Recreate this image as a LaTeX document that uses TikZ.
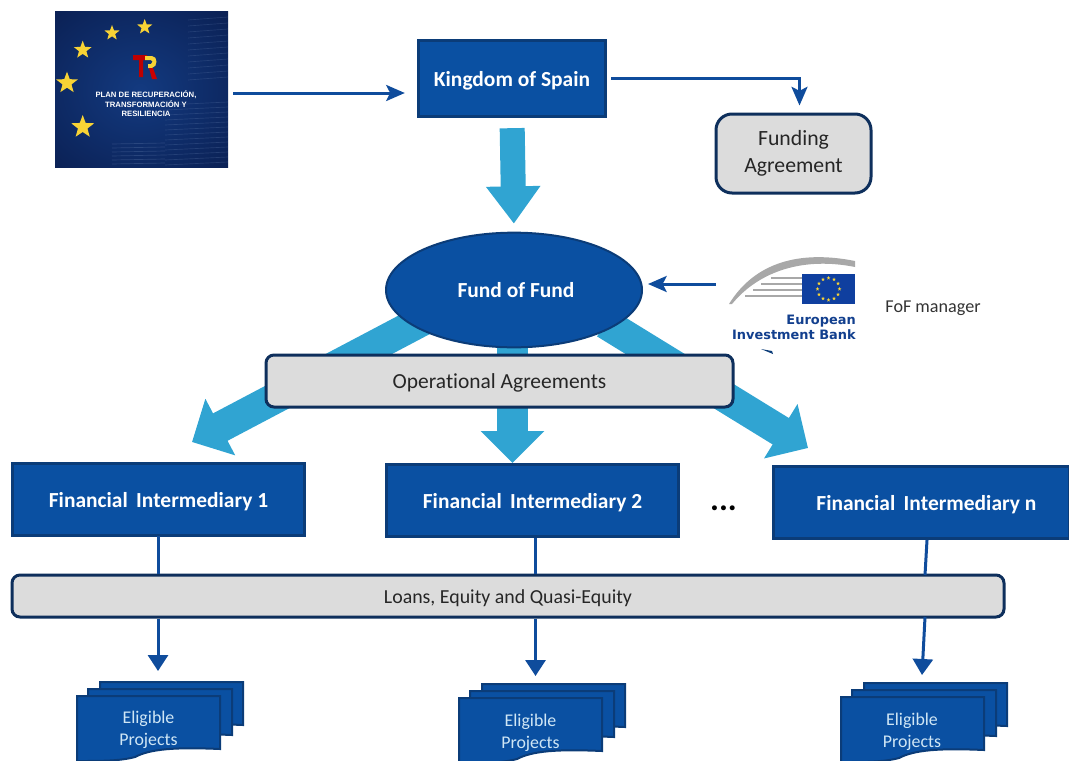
\documentclass[tikz,border=0pt]{standalone}
\usepackage{fontspec}
\setmainfont[Ligatures=NoCommon]{Carlito}
\newfontfamily\logofont{Liberation Sans}
\newfontfamily\eibfont{DejaVu Sans}
\usetikzlibrary{arrows.meta,shapes.geometric,calc,positioning,backgrounds}
\definecolor{boxblue}{HTML}{0A50A2}
\definecolor{boxedge}{HTML}{0B3C78}
\definecolor{cyanarrow}{HTML}{30A4D2}
\definecolor{lineblue}{HTML}{0F4C9C}
\definecolor{grayfill}{HTML}{DCDCDC}
\definecolor{grayedge}{HTML}{0E2F5C}
\definecolor{txtpale}{HTML}{CFE6F5}
\definecolor{logodark}{HTML}{0A1E50}
\definecolor{logomid}{HTML}{133A80}
\definecolor{eibblue}{HTML}{123F8E}
\definecolor{eibgray}{HTML}{A8A8A8}
\definecolor{stargold}{HTML}{F8D335}
\definecolor{flagblue}{HTML}{0F3F9F}
\newcommand\fs[1]{\fontsize{#1}{#1}\selectfont}
\newcommand\onedoc[4]{%
  \draw[docsheet] (#1,#2) -- (#1+#3,#2) -- (#1+#3,#2+#4-12)
    .. controls (#1+#3-45,#2+#4-14) and (#1+#3-70,#2+#4-12) .. (#1+#3-85,#2+#4-4)
    .. controls (#1+#3-100,#2+#4) and (#1+25,#2+#4) .. (#1,#2+#4) -- cycle;}
\newcommand\docstack[2]{%
  \begin{scope}[shift={(#1,#2)}]
    \onedoc{23}{0}{143}{55}
    \onedoc{11}{7}{144}{58}
    \onedoc{0}{14}{143}{65}
  \end{scope}}
\tikzset{
  bluebox/.style={draw=boxedge,line width=2.25pt,fill=boxblue,text=white,font=\fs{16.1}\bfseries,inner sep=0pt,align=center,text height=14.5pt,text depth=3pt},
  graybox/.style={draw=grayedge,line width=2.25pt,fill=grayfill,text=black!85,rounded corners=6pt,inner sep=0pt,align=center},
  thinarrow/.style={draw=lineblue,line width=2.25pt,-{Stealth[length=14pt,width=12pt,inset=3pt]}},
  lowarrow/.style={draw=lineblue,line width=2.25pt,-{Triangle[length=12pt,width=15pt]}},
  plainline/.style={draw=lineblue,line width=2.25pt},
  bigarrow/.style={draw=cyanarrow,line width=23.25pt,-{Triangle[length=24pt,width=46.5pt]}},
  toparrow/.style={draw=cyanarrow,line width=18.75pt,-{Triangle[length=28pt,width=39pt]}},
  docsheet/.style={draw=boxedge,line width=1.5pt,fill=boxblue},
  doclabel/.style={text=txtpale,font=\fs{13.4},align=center,inner sep=0pt},
  logostar/.style={star,star points=5,star point ratio=2.4,fill=stargold,inner sep=0pt,draw=none},
  logotext/.style={text=white,font=\logofont\bfseries\fs{5.8},inner sep=0pt},
  eibtext/.style={text=eibblue,font=\eibfont\bfseries\fs{9.7},inner sep=0pt,anchor=east},
  flagstar/.style={star,star points=5,star point ratio=2.4,fill=stargold,inner sep=0pt,minimum size=3pt,draw=none}
}
\begin{document}
\begin{tikzpicture}[x=0.75pt,y=-0.75pt]
\useasboundingbox (0,0) rectangle (1069,760);
\clip (0,0) rectangle (1069,760);

% PRTR logo
\node[minimum width=129.75pt,minimum height=117pt,inner sep=0pt] (prtr) at (141.5,89) {};
\begin{scope}
  \clip (55,11) rectangle (228,167);
  \shade[inner color=logomid,outer color=logodark] (0,-30) rectangle (280,210);
  \foreach \yy in {20,26,...,80}{\draw[logomid!70!white,opacity=.28,line width=.5pt] (188,\yy) -- (228,\yy-3);}
  \foreach \yy in {105,110,...,165}{\draw[logomid!70!white,opacity=.30,line width=.5pt] (165,\yy) -- (228,\yy-3);}
  \foreach \yy in {144,148,...,166}{\draw[logomid!70!white,opacity=.35,line width=.5pt] (112,\yy) -- (165,\yy-1);}
\end{scope}
\node[logostar,minimum size=12pt] at (144.7,27) {};
\node[logostar,minimum size=12pt] at (112,33) {};
\node[logostar,minimum size=14pt] at (82.7,50) {};
\node[logostar,minimum size=17pt] at (67,83) {};
\node[logostar,minimum size=18pt] at (82.7,127) {};
\fill[red!75!black] (133,55) -- (147,55) -- (147,60) -- (143,60) -- (143,77) -- (139,77) -- (139,60) -- (133,60) -- cycle;
\fill[stargold] (145,56) -- (152,56) .. controls (158,56) and (158,67) .. (152,68) -- (148,68) -- (148,64) -- (151,64) .. controls (153,63) and (153,60) .. (151,60) -- (145,60) -- cycle;
\fill[red!80!black] (149,68) -- (153,68) -- (157,79) -- (152,79) -- cycle;
\node[logotext] at (146,94.500) {PLAN DE RECUPERACIÓN,};
\node[logotext] at (146,104) {TRANSFORMACIÓN Y};
\node[logotext] at (146,113.500) {RESILIENCIA};

% EIB logo
\node[minimum width=108pt,minimum height=78pt,inner sep=0pt] (eib) at (788,294) {};
\fill[eibgray] (729,304) .. controls (755,262) and (800,250) .. (855,261) -- (855,267) .. controls (805,257) and (760,270) .. (732,304) -- cycle;
\foreach \yy/\xx in {278/771,284/761,290/753,296/745}{\draw[eibgray,line width=1pt] (\xx,\yy) -- (802,\yy);}
\fill[flagblue] (802,274) rectangle (855,304);
\foreach \a in {0,30,...,330}{\node[flagstar] at ($(828.5,289)+(\a:11)$) {};}
\node[eibtext] at (856,321.500) {European};
\node[eibtext] at (856,334.500) {Investment Bank};
\fill[boxedge] (761,349) -- (772,351) -- (773,354) -- cycle;

% main nodes
\node[bluebox,minimum width=140.500pt,minimum height=57.250pt] (kingdom) at (512,78.500) {Kingdom of Spain};
\node[graybox,minimum width=116.250pt,minimum height=59.250pt,rounded corners=12pt,font=\fs{16.3}] (funding) at (793.500,153.500) {\raisebox{-1.5pt}{Funding}\\[3.5pt]\raisebox{-1.5pt}{Agreement}};
\node[ellipse,draw=boxedge,line width=1.5pt,fill=boxblue,text=white,font=\fs{16.1}\bfseries,minimum width=192pt,minimum height=86pt,inner sep=0pt] (fof) at (514,290) {\hspace*{3pt}Fund of Fund};
\node[inner sep=0pt,font=\fs{13.600},text=black!80] (mgr) at (933,308.500) {FoF manager};

\coordinate (tipL) at (192,442);
\coordinate (tipM) at (512.500,463);
\coordinate (tipR) at (808,448);

\begin{scope}[on background layer]
\draw[toparrow,shorten <=7.5pt,shorten >=6pt] (kingdom.south) -- (fof.north);
\draw[bigarrow] ($(fof.south west)+(0,-11)$) -- (tipL);
\draw[bigarrow] (tipM |- fof.south) -- (tipM);
\draw[bigarrow] ($(fof.south east)+(0,-8)$) -- (tipR);
\end{scope}

\node[graybox,minimum width=350.250pt,minimum height=39pt,font=\fs{16.100},text height=14.7pt,text depth=3pt] (oper) at (499.500,381) {Operational Agreements};

\node[bluebox,minimum width=219.250pt,minimum height=54.250pt] (fi1) at (158.500,499.500) {Financial\, Intermediary 1};
\node[bluebox,minimum width=219.250pt,minimum height=54.250pt] (fi2) at (532.500,500.500) {Financial\, Intermediary 2};
\node[bluebox,minimum width=222pt,minimum height=54.250pt] (fin) at (921,502.500) {\hspace*{8pt}Financial\, Intermediary n};
\node[inner sep=0pt,font=\fs{25}\bfseries,anchor=base] (dots) at (723.500,510) {...};

\node[graybox,minimum width=744pt,minimum height=31.500pt,font=\fs{14.900},text height=14.5pt,text depth=3pt] (loans) at (508,596) {Loans, Equity and Quasi-Equity};

% document stacks
\docstack{77}{682}
\docstack{459}{684}
\docstack{841}{683}
\node[doclabel] (ep1) at (148.500,729.500) {Eligible\\[3.2pt]Projects};
\node[doclabel] (ep2) at (530.500,732.500) {Eligible\\[3.2pt]Projects};
\node[doclabel] (ep3) at (912,731.500) {Eligible\\[3.2pt]Projects};

% connectors
\coordinate (logoout) at (233,93);
\draw[thinarrow,shorten >=9pt] (logoout) -- (kingdom.west |- logoout);
\draw[thinarrow] (kingdom.east) ++(4,0) -| ($(funding.north)+(6,-7)$);
\draw[thinarrow] (eib.west) ++(0,-10) -- ($(fof.east)+(5,-6)$);

\coordinate (f1) at (158,536);
\coordinate (f2) at (535,538);
\coordinate (f3) at (927,540);
\draw[plainline] (f1) -- (f1 |- loans.north);
\draw[plainline] (f2) -- (f2 |- loans.north);
\draw[plainline] (f3) -- (925,575);
\coordinate (a1) at (158,671);
\coordinate (a2) at (535.500,676);
\coordinate (a3) at (922,675);
\draw[lowarrow] (a1 |- loans.south) -- (a1);
\draw[lowarrow] (a2 |- loans.south) -- (a2);
\draw[lowarrow] (925,617) -- (a3);
\end{tikzpicture}
\end{document}
